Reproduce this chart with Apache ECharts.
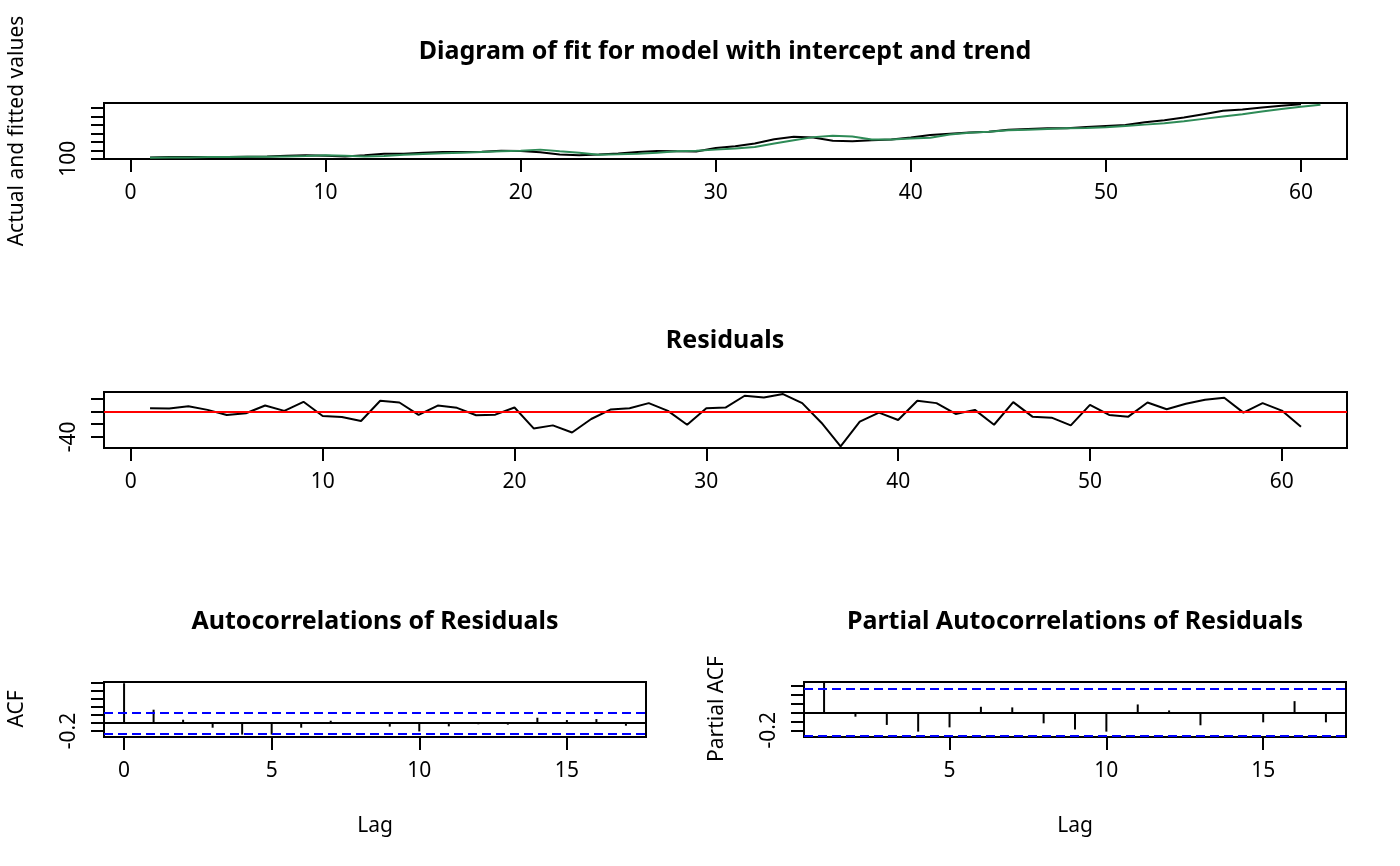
<!DOCTYPE html>
<html>
<head>
<meta charset="utf-8">
<title>Diagram of fit for model with intercept and trend</title>
<script src="https://cdn.jsdelivr.net/npm/echarts@6/dist/echarts.min.js"></script>
<style>
  html, body { margin: 0; padding: 0; background: #fff; }
  #main { width: 1400px; height: 866px; }
</style>
</head>
<body>
<div id="main"></div>
<script>
// actual values (black) at t = 1..60, fitted values (green) at t = 1..61
var actual = [116, 120, 120, 120, 120, 124, 128, 136, 140, 136,
              128, 140, 160, 160, 172, 180, 180, 184, 196, 192,
              178, 150, 140, 150, 162, 180, 192, 188, 185, 228,
              248, 280, 332, 360, 352, 312, 308, 320, 328, 352,
              380, 396, 412, 420, 444, 452, 460, 460, 476, 488,
              500, 532, 556, 588, 628, 668, 684, 708, 728, 744]
var fitted = [112, 116, 116, 120, 120, 124, 124, 128, 132, 140,
              136, 128, 132, 148, 156, 164, 172, 180, 188, 196,
              208, 188, 172, 148, 152, 160, 172, 188, 196, 208,
              220, 240, 280, 320, 356, 372, 364, 328, 328, 340,
              348, 388, 408, 420, 436, 444, 452, 460, 464, 472,
              488, 504, 520, 544, 572, 600, 628, 660, 690, 716, 740]
var residuals = [5.4, 5.0, 8.6, 2.7, -5.3, -2.6, 9.6, 1.1, 15.5, -6.9,
                 -8.5, -14.9, 17.1, 14.4, -5.3, 9.6, 5.9, -5.8, -4.8, 6.4,
                 -26.6, -21.8, -33.0, -11.7, 3.2, 5.4, 13.4, 1.1, -20.8, 5.4,
                 6.4, 25.1, 22.4, 27.7, 13.4, -17.6, -54.9, -16.0, -1.6, -13.3,
                 17.1, 13.4, -3.7, 2.7, -20.8, 15.0, -8.0, -9.6, -21.8, 10.7,
                 -5.3, -8.0, 14.4, 3.7, 12.3, 18.7, 21.9, -1.6, 13.4, 1.6, -24.0]

var acfLags = [0, 1, 2, 3, 4, 5, 6, 7, 8, 9, 10, 11, 12, 13, 14, 15, 16, 17]
var acfValues = [1, 0.335, 0.083, -0.117, -0.29, -0.29, -0.117, 0.058, 0.025, -0.09,
                 -0.21, -0.083, -0.03, -0.04, 0.133, 0.075, 0.1, -0.067]
var pacfLags = [1, 2, 3, 4, 5, 6, 7, 8, 9, 10, 11, 12, 13, 14, 15, 16, 17]
var pacfValues = [0.335, -0.048, -0.14, -0.215, -0.167, 0.063, 0.056, -0.122, -0.19,
                  -0.215, 0.089, 0.022, -0.144, -0.011, -0.111, 0.126, -0.111]
var ciLimit = 0.256

// tick labels
var timeTicks = [0, 10, 20, 30, 40, 50, 60]
var fitYTicks = [100, 200, 300, 400, 500, 600, 700]
var residYTicks = [-40, -20, 0, 20]
var acfXTicks = [0, 5, 10, 15]
var acfYTicks = [-0.2, 0, 0.2, 0.4, 0.6, 0.8, 1.0]
var pacfXTicks = [5, 10, 15]
var pacfYTicks = [-0.2, -0.1, 0, 0.1, 0.2, 0.3]

var FONT = 'Noto Sans'

function xAxisFor(grid, min, max, ticks) {
    return {
        type: 'value', gridIndex: grid, min: min, max: max, position: 'bottom',
        axisLine: { show: true, onZero: false, lineStyle: { color: '#000', width: 2 } },
        splitLine: { show: false },
        axisTick: { show: true, inside: false, customValues: ticks, length: 13, lineStyle: { color: '#000', width: 2 } },
        axisLabel: { customValues: ticks, margin: 24, color: '#000', fontSize: 21, fontFamily: FONT }
    }
}

// R drops the tick labels that would overlap, only the first one is left
function yAxisFor(grid, min, max, ticks) {
    return {
        type: 'value', gridIndex: grid, min: min, max: max, position: 'left',
        axisLine: { show: true, onZero: false, lineStyle: { color: '#000', width: 2 } },
        splitLine: { show: false },
        axisTick: { show: true, inside: false, customValues: ticks, length: 13, lineStyle: { color: '#000', width: 2 } },
        axisLabel: {
            customValues: ticks, margin: 24, rotate: 90, color: '#000', fontSize: 21, fontFamily: FONT,
            formatter: function (v) { return Math.abs(v - ticks[0]) < 1e-9 ? String(ticks[0]) : '' }
        }
    }
}

function boxGrid(left, top, width, height) {
    return { left: left, top: top, width: width, height: height, show: true,
             borderColor: '#000', borderWidth: 2, backgroundColor: 'transparent' }
}

function hLine(value, color, type) {
    return { yAxis: value, lineStyle: { color: color, type: type, width: 2 } }
}

function text(str, x, y, size, bold, rot) {
    return {
        type: 'text', x: x, y: y, rotation: rot || 0, silent: true,
        style: { text: str, fill: '#000', fontSize: size, fontWeight: bold ? 'bold' : 'normal',
                 fontFamily: FONT, align: 'center', verticalAlign: 'middle' }
    }
}

var mychart = echarts.init(document.getElementById('main'))
mychart.setOption({
    animation: false,
    backgroundColor: '#fff',
    grid: [
        boxGrid(104, 103, 1243, 56),
        boxGrid(104, 392, 1243, 56),
        boxGrid(104, 682, 542, 55),
        boxGrid(804, 682, 542, 55)
    ],
    xAxis: [
        xAxisFor(0, -1.36, 62.36, timeTicks),
        xAxisFor(1, -1.4, 63.4, timeTicks),
        xAxisFor(2, -0.68, 17.68, acfXTicks),
        xAxisFor(3, 0.36, 17.64, pacfXTicks)
    ],
    yAxis: [
        yAxisFor(0, 97, 760, fitYTicks),
        yAxisFor(1, -57.6, 31, residYTicks),
        yAxisFor(2, -0.35, 1.03, acfYTicks),
        yAxisFor(3, -0.275, 0.34, pacfYTicks)
    ],
    series: [{
        name: 'actual', type: 'line', xAxisIndex: 0, yAxisIndex: 0,
        data: actual.map(function (v, i) { return [i + 1, v] }),
        showSymbol: false, lineStyle: { color: '#000', width: 2 }
    }, {
        name: 'fitted', type: 'line', xAxisIndex: 0, yAxisIndex: 0,
        data: fitted.map(function (v, i) { return [i + 1, v] }),
        showSymbol: false, lineStyle: { color: '#2e8b57', width: 2 }
    }, {
        name: 'residuals', type: 'line', xAxisIndex: 1, yAxisIndex: 1,
        data: residuals.map(function (v, i) { return [i + 1, v] }),
        showSymbol: false, lineStyle: { color: '#000', width: 2 },
        markLine: { silent: true, symbol: ['none', 'none'], label: { show: false },
                    data: [hLine(0, '#ff0000', 'solid')] }
    }, {
        name: 'acf', type: 'bar', xAxisIndex: 2, yAxisIndex: 2, barWidth: 2,
        data: acfLags.map(function (l, i) { return [l, acfValues[i]] }),
        itemStyle: { color: '#000' },
        markLine: { silent: true, symbol: ['none', 'none'], label: { show: false },
                    data: [hLine(0, '#000', 'solid'), hLine(ciLimit, '#0000ff', [9, 5]), hLine(-ciLimit, '#0000ff', [9, 5])] }
    }, {
        name: 'pacf', type: 'bar', xAxisIndex: 3, yAxisIndex: 3, barWidth: 2,
        data: pacfLags.map(function (l, i) { return [l, pacfValues[i]] }),
        itemStyle: { color: '#000' },
        markLine: { silent: true, symbol: ['none', 'none'], label: { show: false },
                    data: [hLine(0, '#000', 'solid'), hLine(ciLimit, '#0000ff', [9, 5]), hLine(-ciLimit, '#0000ff', [9, 5])] }
    }],
    graphic: [
        text('Diagram of fit for model with intercept and trend', 725, 52, 25, true),
        text('Residuals', 725, 341, 25, true),
        text('Autocorrelations of Residuals', 375, 622, 25, true),
        text('Partial Autocorrelations of Residuals', 1075, 622, 25, true),
        text('Actual and fitted values', 17, 131, 21, false, Math.PI / 2),
        text('ACF', 17, 709, 21, false, Math.PI / 2),
        text('Partial ACF', 717, 709, 21, false, Math.PI / 2),
        text('Lag', 375, 826, 21, false),
        text('Lag', 1075, 826, 21, false)
    ]
})
</script>
</body>
</html>
